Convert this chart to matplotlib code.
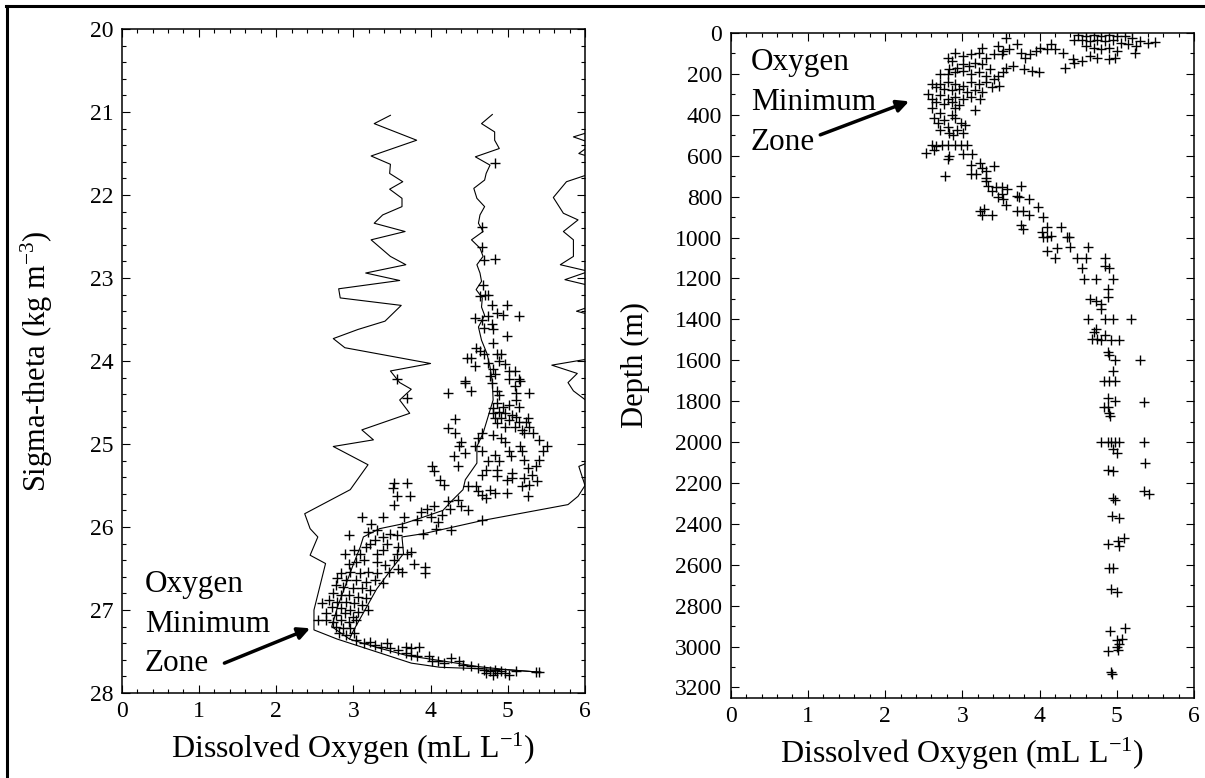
import numpy as np
import matplotlib
matplotlib.use('Agg')
import matplotlib.pyplot as plt
from matplotlib.lines import Line2D
from matplotlib.ticker import MultipleLocator

plt.rcParams['font.family'] = 'serif'
plt.rcParams['font.serif'] = ['Liberation Serif', 'DejaVu Serif']
plt.rcParams['mathtext.fontset'] = 'custom'
plt.rcParams['mathtext.rm'] = 'Liberation Serif'
plt.rcParams['mathtext.it'] = 'Liberation Serif:italic'

# ---- sigma-theta panel: min / mean / max profiles (DO, sigma) ----
min_do = [3.48, 3.27, 3.82, 3.23, 3.48, 3.47, 3.64, 3.47, 3.63, 3.63, 3.38, 3.27, 3.67, 3.23, 3.48,
          3.68, 3.16, 3.60, 2.81, 2.83, 3.62, 3.41, 3.06, 2.74, 2.89, 4.00, 3.48, 3.60, 3.75, 3.60,
          3.73, 3.11, 3.26, 2.74, 3.19, 2.96, 2.37, 2.44, 2.54, 2.44, 2.64, 2.49, 2.49, 2.79, 3.75,
          4.12, 5.01, 5.43]
min_sig = [21.04, 21.14, 21.34, 21.53, 21.63, 21.74, 21.84, 21.93, 22.04, 22.14, 22.24, 22.34, 22.44, 22.54, 22.74,
           22.84, 22.94, 23.03, 23.13, 23.24, 23.33, 23.52, 23.62, 23.73, 23.84, 24.03, 24.12, 24.26, 24.34, 24.47,
           24.63, 24.83, 24.95, 25.03, 25.25, 25.55, 25.84, 26.02, 26.12, 26.34, 26.44, 27.00, 27.24, 27.35, 27.64,
           27.69, 27.72, 27.75]

mean_do = [4.80, 4.66, 4.83, 4.83, 4.89, 4.58, 4.77, 4.72, 4.70, 4.56, 4.60, 4.70, 4.64, 4.62, 4.68,
           4.53, 4.64, 4.68, 4.60, 4.64, 4.66, 4.59, 4.67, 4.66, 4.70, 4.62, 4.66, 4.73, 4.77, 4.80,
           4.81, 4.68, 4.60, 4.60, 4.45, 4.42, 4.29, 4.16, 3.91, 3.65, 3.34, 3.13, 3.09, 3.00, 2.90,
           2.80, 2.72, 2.95, 3.30, 3.70, 4.20, 4.60, 5.00, 5.42]
mean_sig = [21.03, 21.14, 21.24, 21.34, 21.44, 21.54, 21.64, 21.74, 21.82, 21.92, 22.04, 22.14, 22.24, 22.34, 22.44,
            22.54, 22.64, 22.74, 22.84, 22.94, 23.04, 23.14, 23.24, 23.35, 23.45, 23.59, 23.75, 23.91, 24.07, 24.25,
            24.47, 24.87, 25.03, 25.23, 25.43, 25.55, 25.67, 25.80, 25.88, 25.96, 26.02, 26.12, 26.24, 26.45, 26.70,
            26.95, 27.20, 27.35, 27.45, 27.55, 27.62, 27.68, 27.72, 27.75]

max_do = [6.20, 5.85, 6.10, 5.92, 6.20, 6.05, 5.76, 5.59, 5.72, 5.91, 5.72, 5.85, 5.85, 5.68, 6.05,
          5.74, 6.10, 6.20, 5.89, 6.30, 6.20, 5.57, 5.90, 5.78, 5.85, 6.05, 6.20, 6.10, 5.92, 6.00,
          5.91, 5.78, 4.68, 3.91, 3.63, 3.65, 3.50, 3.30, 3.15, 3.00, 2.95]
max_sig = [21.20, 21.30, 21.38, 21.50, 21.58, 21.75, 21.84, 22.03, 22.22, 22.30, 22.44, 22.54, 22.74, 22.84, 22.92,
           23.02, 23.10, 23.30, 23.40, 23.50, 23.95, 24.05, 24.15, 24.26, 24.36, 24.50, 24.70, 25.20, 25.27, 25.50,
           25.63, 25.73, 25.92, 26.08, 26.12, 26.32, 26.50, 26.75, 27.00, 27.25, 27.35]

# bottle samples (DO, sigma-theta)
sig_pts = np.array([
    (4.84, 21.61), (4.67, 22.39), (4.67, 22.63), (4.69, 22.78), (4.84, 22.77), (4.68, 23.09), (4.64, 23.22),
    (4.70, 23.20), (4.75, 23.21), (4.79, 23.32), (4.86, 23.42), (4.94, 23.44), (4.99, 23.32), (5.14, 23.46),
    (4.57, 23.48), (4.67, 23.50), (4.74, 23.46), (4.79, 23.56), (4.69, 23.60), (4.81, 23.61), (4.99, 23.70),
    (4.81, 23.78), (4.59, 23.84), (4.64, 23.88), (4.69, 23.92), (4.86, 23.92), (4.89, 24.00), (4.91, 23.92),
    (4.47, 23.96), (4.52, 23.96), (4.57, 24.06), (4.74, 24.02), (4.81, 24.10), (4.96, 24.04), (5.01, 24.12),
    (5.09, 24.12), (5.14, 24.22), (5.16, 24.24), (5.01, 24.22), (4.84, 24.16), (4.77, 24.18), (4.79, 24.26),
    (4.44, 24.24), (4.22, 24.38), (4.52, 24.36), (4.86, 24.36), (5.09, 24.30), (5.28, 24.38), (3.56, 24.22),
    (4.44, 24.27), (4.89, 24.41), (5.11, 24.39), (3.70, 24.45), (4.86, 24.51), (4.81, 24.57), (4.94, 24.55),
    (5.01, 24.53), (5.11, 24.47), (5.14, 24.55), (4.89, 24.61), (4.96, 24.63), (5.06, 24.65), (4.91, 24.69),
    (5.01, 24.71), (5.11, 24.67), (5.14, 24.73), (4.86, 24.75), (4.96, 24.79), (5.09, 24.79), (5.19, 24.83),
    (5.26, 24.69), (5.23, 24.73), (4.81, 24.63), (4.84, 24.69), (4.32, 24.70), (4.22, 24.81), (4.32, 24.87),
    (4.67, 24.87), (4.62, 24.93), (4.81, 24.89), (4.91, 24.93), (4.96, 24.97), (5.21, 24.87), (5.33, 24.87),
    (5.28, 24.79), (5.41, 24.95), (5.46, 25.09), (5.51, 25.03), (5.16, 25.03), (5.19, 25.09), (5.01, 25.09),
    (5.04, 25.15), (5.21, 25.19), (5.41, 25.19), (5.36, 25.27), (5.26, 25.29), (4.39, 24.97), (4.37, 25.03),
    (4.30, 25.15), (4.44, 25.11), (4.57, 25.03), (4.67, 25.09), (4.74, 25.21), (4.84, 25.13), (4.89, 25.21),
    (4.35, 25.27), (4.02, 25.27), (4.05, 25.33), (4.72, 25.31), (4.67, 25.37), (4.86, 25.31), (5.06, 25.35),
    (4.86, 25.39), (5.06, 25.41), (5.21, 25.41), (5.31, 25.37), (5.28, 25.49), (5.38, 25.45), (5.18, 25.51),
    (4.99, 25.43), (4.12, 25.43), (4.17, 25.49), (4.49, 25.51), (4.59, 25.51), (4.62, 25.57), (4.77, 25.55),
    (4.84, 25.59), (4.99, 25.59), (4.72, 25.65), (4.67, 25.61), (5.26, 25.63), (4.35, 25.67), (4.22, 25.69),
    (4.39, 25.75), (4.25, 25.78), (4.49, 25.80), (4.05, 25.75), (3.95, 25.78), (3.88, 25.82), (4.00, 25.88),
    (3.83, 25.92), (4.10, 25.94), (4.15, 25.86), (4.27, 26.04), (4.07, 26.02), (3.90, 26.08), (4.67, 25.92),
    (3.53, 25.47), (3.51, 25.53), (3.70, 25.47), (3.56, 25.63), (3.73, 25.63), (3.53, 25.73), (3.65, 25.88),
    (3.63, 26.00), (3.56, 26.10), (3.38, 25.88), (3.11, 25.88), (3.23, 25.96), (3.31, 26.04), (3.19, 26.06),
    (2.94, 26.10),
    (3.48, 26.08), (3.38, 26.12), (3.28, 26.16), (3.21, 26.20), (3.43, 26.20), (3.58, 26.24), (3.70, 26.32),
    (3.75, 26.30), (3.56, 26.32), (3.38, 26.28), (3.31, 26.32), (3.16, 26.24), (3.09, 26.32), (3.01, 26.28),
    (2.89, 26.32), (3.14, 26.40), (3.04, 26.42), (2.94, 26.44), (3.31, 26.42), (3.41, 26.46), (3.53, 26.40),
    (3.58, 26.50), (3.46, 26.54), (3.63, 26.54), (3.78, 26.44), (3.93, 26.48), (3.93, 26.56), (3.31, 26.56),
    (3.19, 26.54), (3.09, 26.56), (2.96, 26.54), (2.84, 26.56), (2.79, 26.62), (2.91, 26.64), (3.04, 26.64),
    (3.16, 26.66), (3.28, 26.64), (3.38, 26.68), (2.77, 26.70), (2.86, 26.72), (2.99, 26.74), (3.11, 26.74),
    (3.21, 26.76), (2.74, 26.80), (2.84, 26.82), (2.94, 26.82), (3.06, 26.84), (3.16, 26.86), (2.69, 26.88),
    (2.79, 26.90), (2.91, 26.90), (3.01, 26.92), (3.11, 26.94), (2.59, 26.92), (2.72, 26.96), (2.84, 26.98),
    (2.96, 27.00), (3.06, 27.02), (3.19, 27.00), (2.64, 27.04), (2.77, 27.06), (2.89, 27.04), (2.99, 27.08),
    (2.54, 27.12), (2.64, 27.12), (2.74, 27.14), (2.84, 27.12), (2.94, 27.14), (3.04, 27.12), (2.77, 27.20),
    (2.86, 27.22), (2.96, 27.22), (2.81, 27.28), (2.91, 27.30), (3.01, 27.28),
    (3.04, 27.36), (3.14, 27.40), (3.21, 27.38), (3.28, 27.42), (3.36, 27.44), (3.43, 27.40), (3.48, 27.46),
    (3.58, 27.48), (3.68, 27.44), (3.75, 27.46), (3.85, 27.44), (3.68, 27.52), (3.75, 27.54), (3.83, 27.56),
    (3.98, 27.56), (4.02, 27.62), (4.10, 27.62), (4.17, 27.64), (4.27, 27.58), (4.37, 27.62), (4.42, 27.66),
    (4.52, 27.68), (4.62, 27.70), (4.69, 27.72), (4.77, 27.74), (4.84, 27.72), (4.86, 27.76), (4.91, 27.74),
    (4.96, 27.76), (5.01, 27.78), (4.81, 27.78), (4.72, 27.76), (5.11, 27.74), (5.36, 27.75), (5.41, 27.75),
])

# ---- depth panel samples (DO, depth m) ----
dep_pts = np.array([
    (4.50, 8), (4.60, 16), (4.70, 8), (4.80, 16), (4.90, 8), (5.00, 16), (5.10, 16), (5.20, 24), (5.30, 40),
    (5.40, 48), (5.50, 45), (4.55, 32), (4.65, 40), (4.75, 32), (4.85, 40), (4.95, 32), (5.05, 48), (5.15, 56),
    (5.25, 64), (4.45, 32), (4.60, 64), (4.70, 72), (4.80, 80), (4.90, 72), (5.00, 88), (5.23, 96), (4.98, 120),
    (4.90, 128), (4.75, 120), (4.65, 112), (4.55, 136), (4.45, 145), (4.33, 169), (4.43, 128), (4.30, 96),
    (4.20, 80), (4.15, 56), (4.10, 80), (4.00, 72), (3.96, 88), (3.81, 120), (3.71, 56), (3.61, 80), (3.56, 24),
    (3.53, 88), (3.51, 104), (3.76, 96), (3.88, 104), (3.46, 64), (3.41, 104), (3.31, 120), (3.26, 72),
    (3.21, 96), (3.11, 104), (3.01, 112), (2.91, 96), (2.86, 136), (2.81, 120), (3.99, 193), (3.90, 185),
    (3.80, 177), (3.66, 160), (3.56, 169), (3.53, 193), (3.46, 209), (3.36, 177), (3.26, 153), (3.16, 145),
    (3.08, 161), (3.01, 153), (2.93, 169), (2.83, 177), (2.71, 201), (2.81, 201), (2.91, 193), (3.01, 185),
    (3.11, 201), (3.21, 193), (3.31, 209), (3.41, 225), (3.31, 241), (3.21, 249), (3.11, 241), (3.01, 257),
    (2.91, 249), (2.81, 241), (2.71, 249), (2.61, 249), (2.66, 265), (2.76, 273), (2.86, 281), (2.96, 273),
    (3.06, 289), (3.16, 281), (3.26, 289), (3.38, 265), (3.48, 257), (2.56, 297), (2.61, 321), (2.71, 305),
    (2.81, 321), (2.91, 313), (3.01, 321), (3.11, 313), (3.23, 321), (2.66, 337), (2.76, 345), (2.86, 337),
    (2.96, 353), (3.16, 377), (2.91, 369), (2.61, 369), (2.71, 393), (2.63, 418), (2.68, 442), (2.76, 426),
    (2.86, 402), (2.91, 418), (2.98, 442), (3.03, 450), (2.81, 458), (2.71, 474), (2.83, 490), (2.93, 474),
    (3.01, 490), (2.88, 498), (2.61, 546), (2.66, 554), (2.73, 546), (2.81, 546), (2.91, 546), (2.98, 546),
    (3.06, 546), (2.63, 570), (2.53, 586), (2.83, 602), (3.01, 594), (3.13, 594), (2.81, 618), (2.78, 699),
    (3.11, 643), (3.23, 634), (3.26, 659), (3.11, 691), (3.18, 691), (3.31, 675), (3.41, 651), (3.31, 707),
    (3.31, 723), (3.33, 747), (3.43, 755), (3.38, 771), (3.51, 755), (3.58, 763), (3.76, 747), (3.51, 787),
    (3.53, 811), (3.46, 803), (3.71, 795), (3.73, 800), (3.86, 811), (3.56, 843), (3.71, 868), (3.78, 868),
    (3.86, 892), (3.98, 851), (4.05, 900), (3.23, 868), (3.28, 859), (3.26, 892), (3.38, 892), (3.76, 940),
    (3.78, 956), (4.03, 972), (4.10, 948), (4.28, 948), (4.05, 996), (4.10, 996), (4.15, 993), (4.35, 996),
    (4.38, 996), (4.10, 1068), (4.23, 1052), (4.40, 1044), (4.63, 1044), (4.20, 1100), (4.48, 1100),
    (4.60, 1100), (4.85, 1100), (4.55, 1149), (4.85, 1141), (4.90, 1149), (4.58, 1202), (4.73, 1202),
    (4.95, 1202), (4.88, 1250), (4.65, 1301), (4.73, 1309), (4.88, 1293), (4.80, 1325), (4.80, 1349),
    (4.63, 1398), (4.85, 1398), (4.95, 1398), (5.18, 1398), (4.73, 1446), (4.70, 1462), (4.68, 1494),
    (4.75, 1494), (4.80, 1502), (4.85, 1478), (4.93, 1502), (5.03, 1502), (4.88, 1558), (4.90, 1574),
    (4.98, 1598), (5.30, 1598), (4.95, 1655), (4.83, 1703), (4.90, 1703), (4.98, 1703), (4.88, 1783),
    (4.98, 1799), (5.35, 1803), (4.83, 1828), (4.88, 1831), (4.90, 1856), (4.91, 1872), (4.80, 2000),
    (4.88, 2000), (4.93, 2000), (4.98, 2000), (5.03, 2000), (4.95, 2032), (5.00, 2056), (5.35, 2000),
    (5.37, 2101), (4.88, 2136), (4.95, 2144), (5.35, 2241), (5.42, 2254), (4.95, 2273), (4.98, 2281),
    (4.94, 2364), (5.03, 2372), (4.88, 2498), (5.02, 2482), (5.09, 2470), (5.03, 2509), (4.90, 2618),
    (4.95, 2615), (4.93, 2718), (5.00, 2734), (4.91, 2923), (5.10, 2910), (5.00, 2968), (5.07, 2963),
    (5.03, 2987), (5.00, 3003), (5.02, 3019), (4.89, 3024), (4.93, 3124), (4.94, 3132),
])

sig_ticks = np.arange(20, 29, 1)
depth_ticks = np.arange(0, 3201, 200)
do_ticks = np.arange(0, 7, 1)

W, H = 1205, 778
fig = plt.figure(figsize=(W / 100, H / 100), dpi=100)
ax1 = fig.add_axes([121.7 / W, 1 - 693 / H, 463.3 / W, 664 / H])
ax2 = fig.add_axes([730.7 / W, 1 - 697.7 / H, 463.3 / W, 664.7 / H])

for ax in (ax1, ax2):
    ax.set_xlim(0, 6)
    ax.set_xticks(do_ticks)
    ax.xaxis.set_minor_locator(MultipleLocator(0.2))
    ax.tick_params(which='both', direction='in', top=True, right=True, width=0.8,
                   labelsize=17, pad=6)
    ax.tick_params(which='major', length=5.5)
    ax.tick_params(which='minor', length=3)
    for s in ax.spines.values():
        s.set_linewidth(1.1)
    ax.set_xlabel('Dissolved Oxygen (mL L$^{-1}$)', fontsize=23, labelpad=6)

# left: sigma-theta
ax1.plot(min_do, min_sig, color='k', lw=0.8)
ax1.plot(mean_do, mean_sig, color='k', lw=0.8)
ax1.plot(max_do, max_sig, color='k', lw=0.8)
ax1.plot(sig_pts[:, 0], sig_pts[:, 1], '+', color='k', ms=7, mew=1.0)
ax1.set_ylim(28, 20)
ax1.set_yticks(sig_ticks)
ax1.yaxis.set_minor_locator(MultipleLocator(0.2))
ax1.set_ylabel('Sigma-theta (kg m$^{-3}$)', fontsize=22)
ax1.yaxis.set_label_coords(-0.143, 0.5)
ax1.text(0.30, 27.17, 'Oxygen\nMinimum\nZone', fontsize=22.5, ha='left', va='center', linespacing=1.48)
ax1.annotate('', xy=(2.44, 27.22), xytext=(1.33, 27.64),
             arrowprops=dict(arrowstyle='-|>', color='k', lw=2.5, mutation_scale=18, shrinkA=0, shrinkB=0))

# right: depth
ax2.plot(dep_pts[:, 0], dep_pts[:, 1], '+', color='k', ms=7, mew=1.0)
ax2.set_ylim(3250, 0)
ax2.set_yticks(depth_ticks)
ax2.yaxis.set_minor_locator(MultipleLocator(100))
ax2.set_ylabel('Depth (m)', fontsize=22)
ax2.yaxis.set_label_coords(-0.175, 0.5)
ax2.text(0.26, 340, 'Oxygen\nMinimum\nZone', fontsize=22.5, ha='left', va='center', linespacing=1.48)
ax2.annotate('', xy=(2.31, 334), xytext=(1.16, 498),
             arrowprops=dict(arrowstyle='-|>', color='k', lw=2.5, mutation_scale=18, shrinkA=0, shrinkB=0))

# frame lines along the top and left edge
fig.add_artist(Line2D([6 / W, 1], [1 - 6 / H, 1 - 6 / H], color='k', lw=2.2, transform=fig.transFigure))
fig.add_artist(Line2D([7.5 / W, 7.5 / W], [0, 1 - 6 / H], color='k', lw=2.2, transform=fig.transFigure))

fig.savefig('out.png', dpi=100)
